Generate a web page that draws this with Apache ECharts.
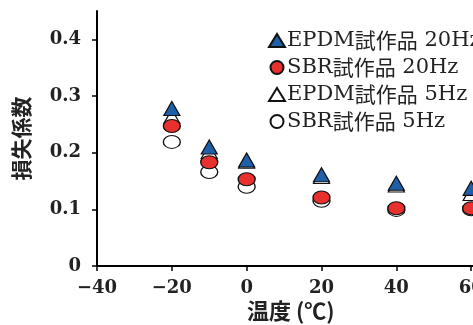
<!DOCTYPE html>
<html><head><meta charset="utf-8">
<script src="https://cdn.jsdelivr.net/npm/echarts@6/dist/echarts.min.js"></script>
<style>html,body{margin:0;padding:0;background:#fff;overflow:hidden;width:473px;height:325px}#c{width:560px;height:325px}</style>
</head><body><div id="c"></div>
<script>
var temps = [-20, -10, 0, 20, 40, 60];
var epdm20 = [0.278, 0.210, 0.187, 0.161, 0.146, 0.137];
var sbr20  = [0.247, 0.183, 0.153, 0.121, 0.102, 0.102];
var epdm5  = [0.264, 0.202, 0.185, 0.158, 0.143, 0.128];
var sbr5   = [0.219, 0.166, 0.140, 0.115, 0.099, 0.100];
var seriesNames = ['EPDM試作品 20Hz', 'SBR試作品 20Hz', 'EPDM試作品 5Hz', 'SBR試作品 5Hz'];
var yTicks = [0, 0.1, 0.2, 0.3, 0.4];

function pairs(vals){ return temps.map(function(t,i){ return [t, vals[i]]; }); }
var latin = '"DejaVu Serif", serif';
var cjk = '"Noto Sans CJK JP", sans-serif';

var chart = echarts.init(document.getElementById('c'), null, {renderer:'canvas'});
var styles = [
  {symbol: 'triangle', size:[16,14], color:'#1f5fa8', border:'#111'},
  {symbol: 'circle', size:[17,13], color:'#e8312f', border:'#111'},
  {symbol: 'triangle', size:[16,14], color:'#ffffff', border:'#111'},
  {symbol: 'circle', size:[17,13], color:'#ffffff', border:'#111'}
];
var data = [epdm20, sbr20, epdm5, sbr5];
var order = [3, 2, 1, 0];
var series = order.map(function(k){
  return {
    name: seriesNames[k], type:'scatter', data: pairs(data[k]),
    symbol: styles[k].symbol, symbolSize: styles[k].size,
    itemStyle:{color: styles[k].color, borderColor: styles[k].border, borderWidth:1.2, opacity:1},
    z: 10 - k
  };
});
function fmtLegend(name){
  var m = name.match(/^([A-Z]+)(試作品)(.*)$/);
  return '{l|' + m[1] + '}{c|' + m[2] + '}{l|' + m[3] + '}';
}
chart.setOption({
  animation:false,
  backgroundColor:'#fff',
  grid:{left:97, top:11, bottom:59, right:14, containLabel:false, outerBoundsMode:'none'},
  legend:{
    data: seriesNames.map(function(n,i){ return {name:n, icon: i%2===0 ? 'triangle' : 'circle'}; }),
    orient:'vertical', left:263, top:25, itemWidth:16, itemHeight:13, itemGap:6,
    formatter: fmtLegend,
    textStyle:{color:'#222', padding:[0,0,0,-3],
      rich:{ l:{fontFamily:latin, fontSize:21, color:'#222', lineHeight:17},
             c:{fontFamily:cjk, fontSize:21, color:'#222', lineHeight:17} }}
  },
  xAxis:{
    type:'value', min:-40, max:80, interval:20,
    splitLine:{show:false},
    axisLine:{show:true, onZero:false, lineStyle:{color:'#000', width:2}},
    axisTick:{show:true, length:5, lineStyle:{color:'#000', width:1.5}},
    axisLabel:{margin:13, color:'#222', fontFamily:latin, fontWeight:'bold', fontSize:18,
      formatter:function(v){ return v < 0 ? '\u2212' + Math.abs(v) : String(v); }}
  },
  yAxis:{
    type:'value', min:0, max:0.45,
    name:'損失係数', nameLocation:'middle', nameGap:65, nameRotate:90,
    nameTextStyle:{fontFamily:cjk, fontSize:21, fontWeight:'bold', color:'#222'},
    splitLine:{show:false},
    axisLine:{show:true, onZero:false, lineStyle:{color:'#000', width:2}},
    axisTick:{show:true, length:5, lineStyle:{color:'#000', width:1.5}, customValues: yTicks},
    axisLabel:{margin:16, color:'#222', fontFamily:latin, fontWeight:'bold', fontSize:18,
      customValues: yTicks,
      formatter:function(v){ return v === 0 ? '0' : v.toFixed(1); }}
  },
  graphic:[{type:'text', left:247, top:300,
    style:{text:'温度 (℃)', font:'bold 22px "Noto Sans CJK JP", sans-serif', fill:'#222'}}],
  series: series
});
</script></body></html>
